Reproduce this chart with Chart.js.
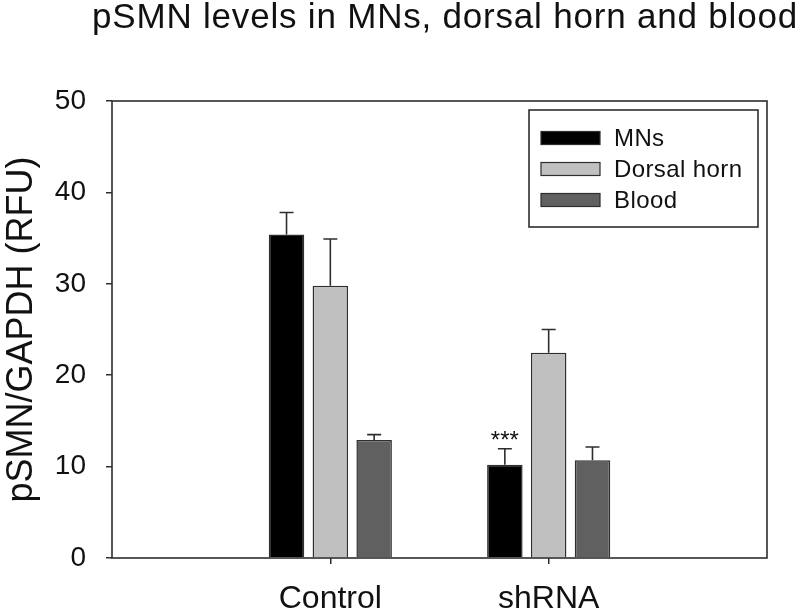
<!DOCTYPE html>
<html><head><meta charset="utf-8">
<script src="https://cdn.jsdelivr.net/npm/chart.js@4"></script>
<style>html,body{margin:0;padding:0;background:#fff}</style>
</head><body>
<canvas id="c" width="800" height="612"></canvas>
<script>
const titleText = 'pSMN levels in MNs, dorsal horn and blood';
const yAxisTitle = 'pSMN/GAPDH (RFU)';
const categories = ['', 'Control', 'shRNA', ''];
const seriesNames = ['MNs', 'Dorsal horn', 'Blood'];
const mnsValues = [null, 35.4, 10.2, null];
const mnsErrors = [null, 2.4, 1.75, null];
const dorsalValues = [null, 29.8, 22.45, null];
const dorsalErrors = [null, 5.1, 2.55, null];
const bloodValues = [null, 12.9, 10.7, null];
const bloodErrors = [null, 0.6, 1.45, null];
const yTicks = [0, 10, 20, 30, 40, 50];
const significance = [{series: 0, index: 2, text: '***'}];

const FONT = "'Liberation Sans', Arial, Helvetica, sans-serif";
const TEXT = '#111111';
const LINE = '#2e2e2e';

const errorBars = {
  id: 'errorBars',
  afterDatasetsDraw(chart) {
    const ctx = chart.ctx, ys = chart.scales.y;
    ctx.save();
    ctx.strokeStyle = LINE; ctx.lineWidth = 1.6;
    chart.data.datasets.forEach((ds, i) => {
      const meta = chart.getDatasetMeta(i);
      meta.data.forEach((el, j) => {
        const v = ds.data[j], e = ds.errors[j];
        if (v == null || e == null) return;
        const top = ys.getPixelForValue(v + e);
        ctx.beginPath();
        ctx.moveTo(el.x, el.y); ctx.lineTo(el.x, top);
        ctx.moveTo(el.x - 7, top); ctx.lineTo(el.x + 7, top);
        ctx.stroke();
      });
    });
    ctx.fillStyle = TEXT; ctx.font = '24px ' + FONT;
    ctx.textAlign = 'center'; ctx.textBaseline = 'alphabetic';
    significance.forEach(s => {
      const ds = chart.data.datasets[s.series];
      const el = chart.getDatasetMeta(s.series).data[s.index];
      const top = ys.getPixelForValue(ds.data[s.index] + ds.errors[s.index]);
      ctx.fillText(s.text, el.x, top - 1);
    });
    ctx.restore();
  }
};

const frameAndLegend = {
  id: 'frameAndLegend',
  afterDraw(chart) {
    const ctx = chart.ctx, a = chart.chartArea;
    ctx.save();
    ctx.strokeStyle = LINE; ctx.lineWidth = 1.6;
    ctx.strokeRect(a.left, a.top, a.right - a.left, a.bottom - a.top);
    // legend box
    const bw = 229, bh = 117;
    const bx = a.right - 9 - bw, by = a.top + 9;
    ctx.fillStyle = '#fff';
    ctx.fillRect(bx, by, bw, bh);
    ctx.strokeRect(bx, by, bw, bh);
    ctx.font = '24px ' + FONT;
    try { ctx.letterSpacing = '0.4px'; } catch (e) {}
    ctx.textAlign = 'left'; ctx.textBaseline = 'middle';
    chart.data.datasets.forEach((ds, i) => {
      const cy = by + 28 + i * 31;
      ctx.fillStyle = ds.backgroundColor;
      ctx.fillRect(bx + 12, cy - 6.5, 59, 13);
      ctx.lineWidth = 1.2; ctx.strokeStyle = LINE;
      ctx.strokeRect(bx + 12, cy - 6.5, 59, 13);
      ctx.fillStyle = TEXT;
      ctx.fillText(ds.label, bx + 85, cy + 1);
    });
    // chart title
    ctx.font = '35px ' + FONT;
    try { ctx.letterSpacing = '0.8px'; } catch (e) {}
    ctx.textAlign = 'center'; ctx.textBaseline = 'alphabetic';
    ctx.fillStyle = TEXT;
    ctx.fillText(titleText, 445, 28);
    ctx.restore();
  }
};

const common = {borderColor: LINE, borderWidth: 1.5, categoryPercentage: 0.602, barPercentage: 0.81};
new Chart(document.getElementById('c'), {
  type: 'bar',
  data: {
    labels: categories,
    datasets: [
      Object.assign({label: seriesNames[0], data: mnsValues, errors: mnsErrors, backgroundColor: '#000000'}, common),
      Object.assign({label: seriesNames[1], data: dorsalValues, errors: dorsalErrors, backgroundColor: '#c0c0c0'}, common),
      Object.assign({label: seriesNames[2], data: bloodValues, errors: bloodErrors, backgroundColor: '#606060'}, common)
    ]
  },
  options: {
    responsive: false,
    devicePixelRatio: 1,
    animation: false,
    layout: {padding: {top: 101, right: 33, left: 0, bottom: 0}},
    plugins: {legend: {display: false}, title: {display: false}, tooltip: {enabled: false}},
    scales: {
      x: {
        type: 'category',
        offset: false,
        grid: {offset: false, drawOnChartArea: false, drawTicks: true, tickLength: 6, color: LINE, lineWidth: 1.5},
        border: {display: false},
        ticks: {color: TEXT, font: {family: FONT, size: 32}, padding: 16, maxRotation: 0, autoSkip: false},
        afterBuildTicks(s) { s.ticks = s.ticks.filter(t => categories[t.value] !== ''); },
        afterFit(s) { s.height = 54; }
      },
      y: {
        min: 0, max: 50,
        grid: {drawOnChartArea: false, drawTicks: true, tickLength: 6, color: LINE, lineWidth: 1.5},
        border: {display: false},
        ticks: {color: TEXT, font: {family: FONT, size: 28}, padding: 20},
        afterBuildTicks(s) { s.ticks = yTicks.map(v => ({value: v})); },
        title: {display: true, text: yAxisTitle, color: TEXT, font: {family: FONT, size: 36}, padding: {top: 0, bottom: 0}},
        afterFit(s) { s.width = 112; }
      }
    }
  },
  plugins: [errorBars, frameAndLegend]
});
</script>
</body></html>
